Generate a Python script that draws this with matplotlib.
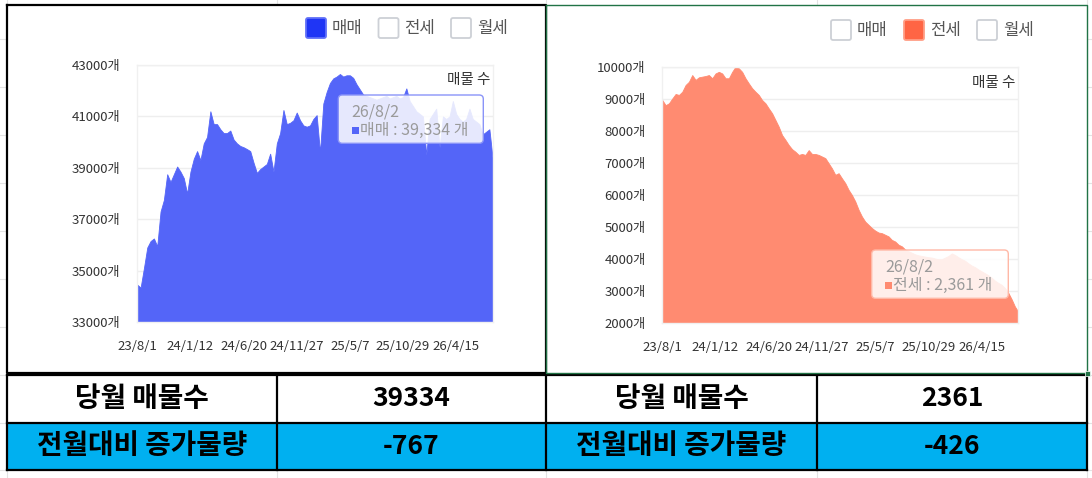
import matplotlib
matplotlib.use('Agg')
import matplotlib.pyplot as plt
from matplotlib.patches import Rectangle, FancyBboxPatch

plt.rcParams['font.family'] = ['Noto Sans CJK KR', 'DejaVu Sans']

# ---------------- data ----------------
x_labels = ['23/8/1', '24/1/12', '24/6/20', '24/11/27', '25/5/7', '25/10/29', '26/4/15']
last_date = '26/8/2'
legend_names = ['매매', '전세', '월세']

sale = [34450, 34340, 35100, 35900, 36150, 36250, 35950, 37300, 37750, 38750,
        38450, 38750, 39050, 38850, 38600, 38000, 38850, 39350, 39650, 39300,
        39950, 40200, 41200, 40700, 40700, 40500, 40350, 40350, 40450, 40100,
        39950, 39850, 39800, 39730, 39650, 39200, 38800, 38950, 39050, 39150,
        39550, 38850, 39950, 40350, 41250, 40700, 40750, 40850, 41150, 40850,
        40650, 40600, 40650, 40900, 41050, 39600, 41500, 41950, 42300, 42480,
        42550, 42650, 42550, 42600, 42600, 42500, 42250, 42050, 41850, 41800,
        41750, 41700, 41650, 41700, 41750, 41800, 41700, 41750, 41800, 41700,
        41750, 42090, 41600, 41400, 41200, 41100, 41000, 39500, 40900, 41100,
        41300, 39800, 41000, 40900, 41000, 41600, 41100, 40900, 40800, 40900,
        41300, 40900, 40800, 40700, 40300, 40400, 40500, 39334]

jeonse = [8960, 8800, 8860, 9010, 9150, 9120, 9220, 9430, 9530, 9740,
          9590, 9670, 9690, 9710, 9740, 9640, 9790, 9840, 9790, 9640,
          9640, 9840, 10000, 9950, 9840, 9640, 9480, 9330, 9220, 9120,
          8960, 8860, 8700, 8550, 8340, 8130, 7870, 7720, 7560, 7430,
          7350, 7250, 7280, 7250, 7400, 7280, 7280, 7250, 7200, 7150,
          6990, 6830, 6630, 6680, 6520, 6370, 6160, 6000, 5800, 5540,
          5330, 5170, 5070, 4970, 4890, 4830, 4810, 4760, 4710, 4600,
          4550, 4450, 4400, 4300, 4250, 4200, 4150, 4120, 4100, 4080,
          4060, 4050, 4020, 4000, 4000, 4050, 4100, 4180, 4130, 4060,
          4000, 3950, 3870, 3800, 3750, 3680, 3620, 3560, 3500, 3420,
          3330, 3260, 3200, 3100, 2950, 2750, 2520, 2361]

row_titles = ['당월 매물수', '전월대비 증가물량']
sale_table = [39334, -767]
jeonse_table = [2361, -426]

# ---------------- figure ----------------
W, H = 1092, 478
fig = plt.figure(figsize=(W / 100, H / 100), dpi=100)


def rect(x0, y0, x1, y1):
    return [x0 / W, 1 - y1 / H, (x1 - x0) / W, (y1 - y0) / H]


bg = fig.add_axes([0, 0, 1, 1])
bg.set_xlim(0, W)
bg.set_ylim(H, 0)
bg.axis('off')

# spreadsheet grid lines
for gy in [39, 87, 135, 183, 231, 279, 327, 375, 423, 470]:
    bg.plot([0, W], [gy, gy], color='#E3E3E3', lw=0.8, zorder=0)
for gx in [7, 277, 546, 817, 1087]:
    bg.plot([gx, gx], [0, H], color='#E3E3E3', lw=0.8, zorder=0)

# chart panels
bg.add_patch(Rectangle((7, 5), 1080, 368, fc='white', ec='none', zorder=1))
# table
bg.add_patch(Rectangle((7, 375), 1080, 48, fc='white', ec='none', zorder=1))
bg.add_patch(Rectangle((7, 423), 1080, 47, fc='#00B0F0', ec='none', zorder=1))
for ty in [375, 423, 470]:
    bg.plot([7, 1087], [ty, ty], color='black', lw=1.6, zorder=3)
for tx in [7, 277, 546, 817, 1087]:
    bg.plot([tx, tx], [375, 470], color='black', lw=1.6, zorder=3)
# left chart border (black)
bg.plot([7, 546, 546, 7, 7], [5, 5, 373, 373, 5], color='black', lw=1.6, zorder=3)
# right chart border (green selection)
bg.plot([546, 1087, 1087, 546, 546], [5, 5, 373, 373, 5], color='#217346', lw=1.0, zorder=4)
bg.add_patch(Rectangle((1085, 371), 5, 5, fc='#217346', ec='white', lw=0.5, zorder=5))

col_centers = [142, 411.5, 681.5, 952]
row_centers = [399, 446.5]
for r in range(2):
    bg.text(col_centers[0], row_centers[r], row_titles[r], ha='center', va='center',
            fontsize=20, fontweight='bold', color='black', zorder=6)
    bg.text(col_centers[1], row_centers[r], str(sale_table[r]), ha='center', va='center',
            fontsize=19, fontweight='bold', color='black', zorder=6)
    bg.text(col_centers[2], row_centers[r], row_titles[r], ha='center', va='center',
            fontsize=20, fontweight='bold', color='black', zorder=6)
    bg.text(col_centers[3], row_centers[r], str(jeonse_table[r]), ha='center', va='center',
            fontsize=19, fontweight='bold', color='black', zorder=6)

BLUE = '#5465F8'
ORANGE = '#FF8B71'


def make_chart(pos, vals, ymin, ymax, ystep, color):
    ax = fig.add_axes(pos)
    n = len(vals)
    xs = list(range(n))
    ax.fill_between(xs, vals, ymin, color=color, lw=0.6, edgecolor=color, zorder=2)
    ax.set_xlim(0, n - 1)
    ax.set_ylim(ymin, ymax)
    ax.set_yticks(list(range(ymin, ymax + 1, ystep)))
    ax.set_yticklabels([f'{v}개' for v in range(ymin, ymax + 1, ystep)])
    ax.set_xticks(list(range(0, n, 16))[:len(x_labels)])
    ax.set_xticklabels(x_labels)
    ax.tick_params(axis='both', length=0, labelsize=9.5, colors='#333333')
    ax.tick_params(axis='y', pad=12)
    ax.tick_params(axis='x', pad=13)
    ax.grid(axis='y', color='#EEEEEE', lw=1, zorder=0)
    ax.set_axisbelow(True)
    for s in ax.spines.values():
        s.set_color('#F0F0F0')
        s.set_linewidth(1)
    return ax


axL = make_chart(rect(137.3, 65, 492.7, 322), sale, 33000, 43000, 2000, BLUE)
axR = make_chart(rect(662.3, 66.7, 1018.3, 323.3), jeonse, 2000, 10000, 1000, ORANGE)

# overlay for legends / tooltips
top = fig.add_axes([0, 0, 1, 1])
top.set_xlim(0, W)
top.set_ylim(H, 0)
top.axis('off')
top.patch.set_alpha(0)


def legend(xs_box, y_top, active, fill, edge):
    for k, name in enumerate(legend_names):
        if k == active:
            fc, ec = fill, edge
        else:
            fc, ec = 'white', '#CDD0D6'
        top.add_patch(FancyBboxPatch((xs_box[k], y_top), 20, 20,
                                     boxstyle='round,pad=0,rounding_size=2',
                                     fc=fc, ec=ec, lw=1.3))
        top.text(xs_box[k] + 26, y_top + 10, name, ha='left', va='center',
                 fontsize=12, color='#555555')


legend([306, 378.5, 451], 18, 0, '#1F35F5', '#6070F8')
legend([831, 904, 977], 20, 1, '#FF6544', '#FF9E86')

top.text(490, 80, '매물 수', ha='right', va='center', fontsize=10.5, color='#333333')
top.text(1015, 83, '매물 수', ha='right', va='center', fontsize=10.5, color='#333333')


def tooltip(x0, y0, w, h, ec, color, name, value):
    top.add_patch(FancyBboxPatch((x0, y0), w, h, boxstyle='round,pad=0,rounding_size=4',
                                 fc=(1, 1, 1, 0.86), ec=ec, lw=1.0))
    top.text(x0 + 13.5, y0 + 16.5, last_date, ha='left', va='center', fontsize=11.5,
             color='#9A9A9A')
    top.add_patch(Rectangle((x0 + 13.5, y0 + 32), 7, 7, fc=color, ec='none'))
    top.text(x0 + 21.5, y0 + 35.5, f'{name} : {value:,} 개', ha='left', va='center',
             fontsize=11.5, color='#9A9A9A')


tooltip(338.3, 95, 145, 48.3, '#8A94F8', BLUE, legend_names[0], sale[-1])
tooltip(871.7, 250, 136.6, 48.3, '#FFB8A6', ORANGE, legend_names[1], jeonse[-1])

fig.savefig('out.png', dpi=100)
